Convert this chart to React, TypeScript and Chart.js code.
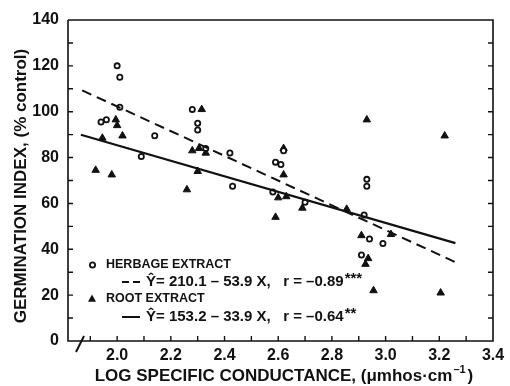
import React, { useEffect, useRef } from 'react';
import { Chart, registerables } from 'chart.js';
Chart.register(...registerables);

// Herbage extract (open circles)
const herbageX = [2.0, 2.01, 2.01, 1.94, 1.96, 2.09, 2.14, 2.28, 2.3, 2.3, 2.33, 2.42, 2.43, 2.62, 2.59, 2.61, 2.58, 2.7, 2.93, 2.93, 2.92, 2.94, 2.99, 2.91];
const herbageY = [120, 115, 102, 95.5, 96.5, 80.5, 89.5, 101, 95, 92, 84, 82, 67.5, 83, 78, 77, 65, 60.5, 70.5, 67.5, 55, 44.5, 42.5, 37.5];
// Root extract (filled triangles)
const rootX = [1.92, 1.98, 1.945, 1.995, 2.0, 2.02, 2.26, 2.3, 2.28, 2.305, 2.33, 2.315, 2.62, 2.62, 2.6, 2.63, 2.59, 2.69, 2.855, 2.91, 3.02, 2.935, 2.925, 2.955, 3.205, 2.93, 3.22];
const rootY = [74.5, 72.5, 88.5, 96.5, 94, 89.5, 66, 74, 83, 84, 82, 101, 84, 72.5, 62.5, 63, 54, 58, 57.5, 46, 46.5, 36, 33.5, 22, 21, 96.5, 89.5];

// Regression lines: Y = a + b X
const herbageFit = [210.1, -53.9];
const herbageFitRange = [1.87, 3.27];
const rootFit = [153.2, -33.9];
const rootFitRange = [1.865, 3.26];

const xTicks = [2.0, 2.2, 2.4, 2.6, 2.8, 3.0, 3.2, 3.4];
const yTicks = [0, 20, 40, 60, 80, 100, 120, 140];
const xMinorTicks = [1.9, 2.0, 2.1, 2.2, 2.3, 2.4, 2.5, 2.6, 2.7, 2.8, 2.9, 3.0, 3.1, 3.2, 3.3];
const yMinorTicks = [10, 20, 30, 40, 50, 60, 70, 80, 90, 100, 110, 120, 130];

const legendLabels = ['HERBAGE EXTRACT', 'Ŷ= 210.1 – 53.9 X,   r = –0.89', 'ROOT EXTRACT', 'Ŷ= 153.2 – 33.9 X,   r = –0.64'];
const legendStars = ['', '***', '', '**'];

const FONT = "'Liberation Sans', Arial, sans-serif";

const framePlugin = {
  id: 'frame',
  afterDraw(chart: any) {
    const ctx = chart.ctx;
    const { left, right, top, bottom } = chart.chartArea;
    const xs = chart.scales.x;
    const ys = chart.scales.y;
    ctx.save();
    ctx.strokeStyle = '#111';
    ctx.fillStyle = '#111';
    ctx.lineWidth = 1.6;
    ctx.setLineDash([]);
    ctx.beginPath();
    ctx.moveTo(left, top);
    ctx.lineTo(right, top);
    ctx.lineTo(right, bottom);
    ctx.lineTo(left, bottom);
    ctx.lineTo(left, top);
    ctx.stroke();
    // ticks
    ctx.lineWidth = 1.4;
    ctx.beginPath();
    for (const v of yMinorTicks) {
      const y = ys.getPixelForValue(v);
      ctx.moveTo(left, y);
      ctx.lineTo(left + 5, y);
      ctx.moveTo(right, y);
      ctx.lineTo(right - 5, y);
    }
    for (const v of xMinorTicks) {
      const x = xs.getPixelForValue(v);
      ctx.moveTo(x, bottom);
      ctx.lineTo(x, bottom - 5);
    }
    ctx.stroke();
    // axis break
    ctx.lineWidth = 2;
    ctx.beginPath();
    ctx.moveTo(left + 8, bottom + 11);
    ctx.lineTo(left + 16, bottom - 5);
    ctx.stroke();

    // axis titles
    const tf = `bold 17px ${FONT}`;
    const sf = `bold 11px ${FONT}`;
    ctx.font = tf;
    ctx.textBaseline = 'middle';
    ctx.textAlign = 'left';
    const t1 = 'LOG SPECIFIC CONDUCTANCE, (μmhos·cm';
    const w1 = ctx.measureText(t1).width;
    ctx.font = sf;
    const w2 = ctx.measureText('–1').width;
    ctx.font = tf;
    const w3 = ctx.measureText(')').width;
    const total = w1 + w2 + w3 + 3;
    const tx = 284 - total / 2;
    const ty = 376;
    ctx.fillText(t1, tx, ty);
    ctx.font = sf;
    ctx.fillText('–1', tx + w1 + 1, ty - 6);
    ctx.font = tf;
    ctx.fillText(')', tx + w1 + w2 + 3, ty);

    ctx.save();
    ctx.translate(21, 186);
    ctx.rotate(-Math.PI / 2);
    ctx.textAlign = 'center';
    ctx.fillText('GERMINATION INDEX, (% control)', 0, 0);
    ctx.restore();

    // legend
    ctx.textAlign = 'left';
    const rows = [265, 282, 299, 317];
    // row 1 marker: circle
    ctx.lineWidth = 1.8;
    ctx.beginPath();
    ctx.arc(92.5, rows[0], 2.6, 0, Math.PI * 2);
    ctx.fillStyle = '#fff';
    ctx.fill();
    ctx.stroke();
    ctx.fillStyle = '#111';
    // row 3 marker: triangle
    ctx.beginPath();
    ctx.moveTo(92, rows[2] - 4.5);
    ctx.lineTo(96, rows[2] + 2.8);
    ctx.lineTo(88, rows[2] + 2.8);
    ctx.closePath();
    ctx.fill();
    // row 2 marker dashed
    ctx.lineWidth = 2;
    ctx.setLineDash([7, 4]);
    ctx.beginPath();
    ctx.moveTo(122, rows[1]);
    ctx.lineTo(140, rows[1]);
    ctx.stroke();
    ctx.setLineDash([]);
    ctx.beginPath();
    ctx.moveTo(122, rows[3]);
    ctx.lineTo(140, rows[3]);
    ctx.stroke();
    const xsText = [106, 146, 106, 146];
    const sizes = [12.5, 15, 12.5, 15];
    legendLabels.forEach((t, i) => {
      ctx.font = `bold ${sizes[i]}px ${FONT}`;
      ctx.fillText(t, xsText[i], rows[i]);
      if (legendStars[i]) {
        const w = ctx.measureText(t).width;
        ctx.font = `bold 15px ${FONT}`;
        ctx.fillText(legendStars[i], xsText[i] + w + 1, rows[i] - 3);
      }
    });
    ctx.restore();
  },
};

export default function App() {
  const ref = useRef<HTMLCanvasElement>(null);
  useEffect(() => {
    document.body.style.margin = '0';
    const fitLine = (coef: number[], range: number[]) => range.map((x) => ({ x, y: coef[0] + coef[1] * x }));
    const chart = new Chart(ref.current as HTMLCanvasElement, {
      type: 'scatter',
      data: {
        datasets: [
          {
            type: 'line',
            label: 'herbage fit',
            data: fitLine(herbageFit, herbageFitRange),
            borderColor: '#111',
            borderWidth: 2,
            borderDash: [10, 6],
            pointRadius: 0,
            fill: false,
          } as any,
          {
            type: 'line',
            label: 'root fit',
            data: fitLine(rootFit, rootFitRange),
            borderColor: '#111',
            borderWidth: 2.2,
            pointRadius: 0,
            fill: false,
          } as any,
          {
            label: 'HERBAGE EXTRACT',
            data: herbageX.map((x, i) => ({ x, y: herbageY[i] })),
            pointStyle: 'circle',
            pointRadius: 2.6,
            borderWidth: 1.8,
            borderColor: '#111',
            backgroundColor: '#fff',
          },
          {
            label: 'ROOT EXTRACT',
            data: rootX.map((x, i) => ({ x, y: rootY[i] })),
            pointStyle: 'triangle',
            pointRadius: 4.3,
            borderWidth: 1,
            borderColor: '#111',
            backgroundColor: '#111',
          },
        ],
      },
      options: {
        animation: false,
        responsive: false,
        layout: { padding: { top: 20, right: 17, left: 0, bottom: 0 } },
        plugins: { legend: { display: false }, tooltip: { enabled: false } },
        scales: {
          x: {
            type: 'linear',
            min: 1.817,
            max: 3.4,
            afterBuildTicks: (s: any) => {
              s.ticks = xTicks.map((v) => ({ value: v }));
            },
            afterFit: (s: any) => {
              s.height = 45;
            },
            grid: { display: false, drawTicks: false },
            border: { display: false },
            ticks: {
              callback: (v: any) => Number(v).toFixed(1),
              padding: 5,
              autoSkip: false,
              maxRotation: 0,
              color: '#111',
              font: { family: FONT, size: 16, weight: 'bold' },
            },
          },
          y: {
            type: 'linear',
            min: 0,
            max: 140,
            afterBuildTicks: (s: any) => {
              s.ticks = yTicks.map((v) => ({ value: v }));
            },
            afterFit: (s: any) => {
              s.width = 68;
            },
            grid: { display: false, drawTicks: false },
            border: { display: false },
            ticks: {
              padding: 9,
              color: '#111',
              font: { family: FONT, size: 16, weight: 'bold' },
            },
          },
        },
      },
      plugins: [framePlugin],
    });
    return () => chart.destroy();
  }, []);
  return <canvas ref={ref} width={510} height={386} style={{ display: 'block' }} />;
}
